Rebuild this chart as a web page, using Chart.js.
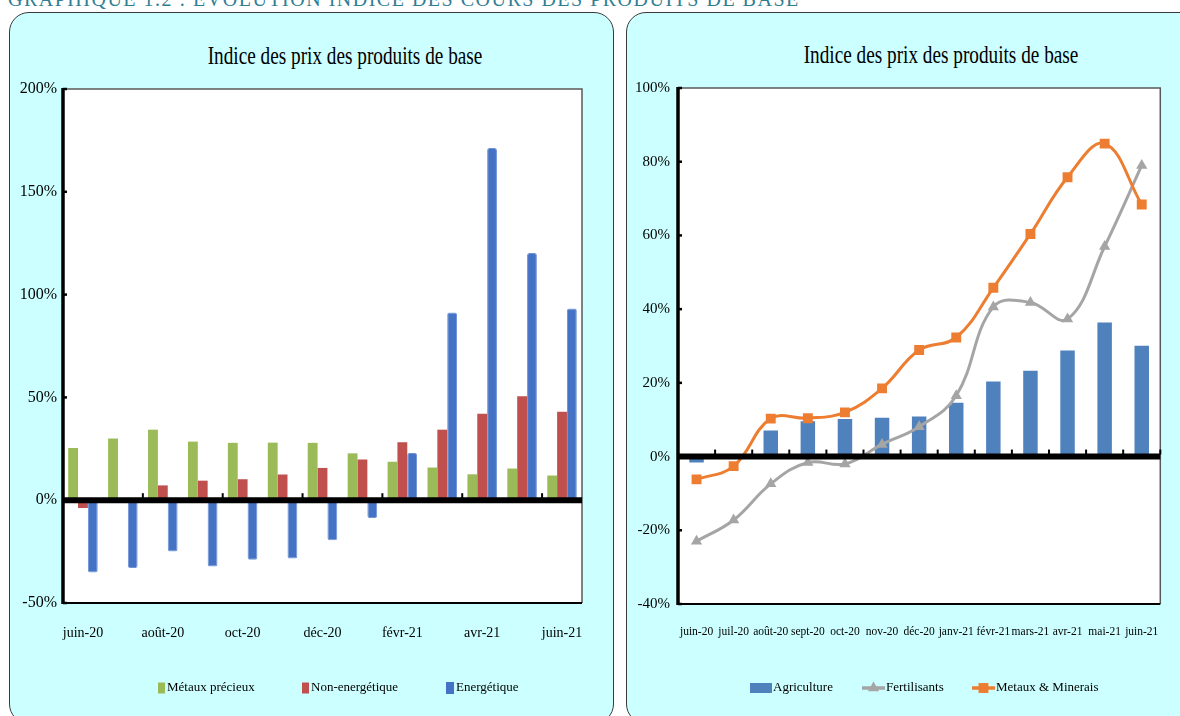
<!DOCTYPE html>
<html><head><meta charset="utf-8">
<script src="https://cdn.jsdelivr.net/npm/chart.js@4.4.1/dist/chart.umd.min.js"></script>
<style>
html,body{margin:0;padding:0;background:#fff;width:1180px;height:716px;overflow:hidden;position:relative;font-family:'Liberation Serif',serif;}
.hdr{position:absolute;left:8px;top:-11px;font-size:20px;line-height:20px;letter-spacing:1.5px;color:#2F7E93;white-space:nowrap;}
.panel{position:absolute;top:12px;height:712px;background:#CCFFFF;border:1.5px solid #3a3a3a;border-radius:20px;box-sizing:border-box;}
#p1{left:9px;width:605px;}
#p2{left:626px;width:620px;}
.ttl{position:absolute;font-size:26px;line-height:30px;color:#000;white-space:nowrap;transform:translateX(-50%) scaleX(0.74);}
canvas{position:absolute;}
</style></head>
<body>
<div class="hdr">GRAPHIQUE 1.2 : EVOLUTION INDICE DES COURS DES PRODUITS DE BASE</div>
<div class="panel" id="p1"></div>
<div class="panel" id="p2"></div>
<div class="ttl" style="left:345px;top:41px;">Indice des prix des produits de base</div>
<div class="ttl" style="left:941px;top:40px;">Indice des prix des produits de base</div>
<canvas id="c1" style="left:8px;top:12px;width:606px;height:704px;" width="606" height="704"></canvas>
<canvas id="c2" style="left:625px;top:12px;width:555px;height:704px;" width="555" height="704"></canvas>
<script>
// ---- data ----
const categories = ['juin-20','juil-20','août-20','sept-20','oct-20','nov-20','déc-20','janv-21','févr-21','mars-21','avr-21','mai-21','juin-21'];
// left chart (%)
const metauxPrecieux = [25.4, 30.0, 34.3, 28.5, 27.9, 28.0, 27.9, 22.8, 18.7, 15.9, 12.6, 15.4, 12.0];
const nonEnergetique = [-3.8, 0.0, 7.2, 9.5, 10.2, 12.5, 15.7, 19.8, 28.2, 34.3, 42.0, 50.5, 43.0];
const energetique = [-35.2, -33.0, -24.9, -32.3, -29.0, -28.4, -19.5, -8.7, 23.0, 91.3, 171.3, 120.2, 93.3];
const leftTicks = {min: -50, max: 200, step: 50};
// right chart (%)
const agriculture = [-1.6, 0.0, 7.1, 9.6, 10.2, 10.5, 10.9, 14.6, 20.4, 23.3, 28.8, 36.4, 30.1];
const fertilisants = [-23.0, -17.2, -7.4, -1.6, -2.0, 3.3, 8.1, 16.5, 40.6, 41.8, 37.3, 57.0, 79.0];
const metauxMinerais = [-6.2, -2.6, 10.3, 10.4, 12.0, 18.5, 28.9, 32.3, 45.8, 60.4, 75.8, 84.9, 68.4];
const rightTicks = {min: -40, max: 100, step: 20};

const FONT = "'Liberation Serif', serif";

// frame / axis decoration plugin
const frame = {
  id: 'frame',
  beforeDatasetsDraw(chart) {
    const {ctx, chartArea: c} = chart;
    ctx.save(); ctx.fillStyle = '#fff';
    ctx.fillRect(c.left, c.top, c.right - c.left, c.bottom - c.top);
    ctx.restore();
  },
  afterDatasetsDraw(chart, args, o) {
    const {ctx, chartArea: c, scales: {x, y}} = chart;
    ctx.save();
    ctx.strokeStyle = '#5a5a5a'; ctx.lineWidth = 1.5;
    ctx.beginPath(); ctx.moveTo(c.left, c.top); ctx.lineTo(c.right, c.top); ctx.lineTo(c.right, c.bottom); ctx.stroke();
    ctx.strokeStyle = '#000'; ctx.lineWidth = 2;
    ctx.beginPath(); ctx.moveTo(c.left, c.bottom); ctx.lineTo(c.right, c.bottom); ctx.stroke();
    const y0 = y.getPixelForValue(0);
    ctx.lineWidth = 6;
    ctx.beginPath(); ctx.moveTo(c.left, y0); ctx.lineTo(c.right, y0); ctx.stroke();
    // x tick marks on the zero line at category boundaries
    ctx.lineWidth = 2;
    const n = chart.data.labels.length;
    for (let i = o.every; i <= n; i += o.every) {
      const px = i < n ? (x.getPixelForValue(i - 1) + x.getPixelForValue(i)) / 2 : c.right;
      ctx.beginPath(); ctx.moveTo(px, y0 - 2); ctx.lineTo(px, y0 - 7); ctx.stroke();
    }
    // y axis line + inner tick marks
    ctx.lineWidth = 3.5;
    ctx.beginPath(); ctx.moveTo(c.left, c.top - 1); ctx.lineTo(c.left, c.bottom + 1); ctx.stroke();
    ctx.lineWidth = 2.5;
    y.ticks.forEach(t => {
      const py = y.getPixelForValue(t.value);
      ctx.beginPath(); ctx.moveTo(c.left, py); ctx.lineTo(c.left + 4, py); ctx.stroke();
    });
    ctx.restore();
  }
};

// free-positioned legend plugin
function drawMarker(ctx, style, r, cx, cy) {
  ctx.beginPath();
  if (style === 'rect') {
    const s = r * Math.SQRT1_2;
    ctx.rect(cx - s, cy - s, 2 * s, 2 * s);
  } else if (style === 'triangle') {
    ctx.moveTo(cx, cy - r);
    ctx.lineTo(cx + r * 0.866, cy + r * 0.5);
    ctx.lineTo(cx - r * 0.866, cy + r * 0.5);
    ctx.closePath();
  }
  ctx.fill();
}
const freeLegend = {
  id: 'freeLegend',
  afterDraw(chart, args, o) {
    const ctx = chart.ctx;
    ctx.save();
    ctx.font = o.font;
    ctx.textBaseline = 'middle';
    chart.data.datasets.forEach((ds, i) => {
      const it = o.items[i];
      const yc = o.y;
      if (it.type === 'box') {
        ctx.fillStyle = ds.backgroundColor;
        ctx.fillRect(it.x, yc - it.h / 2, it.w, it.h);
      } else {
        ctx.strokeStyle = ds.borderColor; ctx.lineWidth = 3.5;
        ctx.beginPath(); ctx.moveTo(it.x, yc); ctx.lineTo(it.x + it.w, yc); ctx.stroke();
        ctx.fillStyle = ds.pointBackgroundColor;
        drawMarker(ctx, ds.pointStyle, ds.pointRadius, it.x + it.w / 2, yc);
      }
      ctx.fillStyle = '#000';
      ctx.fillText(ds.label, it.x + it.w + it.gap, yc);
    });
    ctx.restore();
  }
};

const pct = v => v + '%';

// ---- left chart ----
new Chart(document.getElementById('c1'), {
  type: 'bar',
  data: {
    labels: categories,
    datasets: [
      {label: 'Métaux précieux', data: metauxPrecieux, backgroundColor: '#9BBB59'},
      {label: 'Non-energétique', data: nonEnergetique, backgroundColor: '#C0504D'},
      {label: 'Energétique', data: energetique, backgroundColor: '#4472C4', borderColor: '#6F93D6', borderWidth: 1, borderRadius: 2, borderSkipped: false}
    ]
  },
  options: {
    responsive: false, animation: false, devicePixelRatio: 1,
    layout: {padding: {top: 77, right: 32, bottom: 63, left: 0}},
    datasets: {bar: {categoryPercentage: 0.74, barPercentage: 1.0}},
    scales: {
      x: {
        offset: true,
        grid: {display: false, drawTicks: false}, border: {display: false},
        ticks: {autoSkip: false, maxRotation: 0, minRotation: 0, padding: 22, color: '#000',
          font: {family: FONT, size: 14},
          callback: (v, i) => i % 2 === 0 ? categories[i] : ''},
        afterFit: s => { s.height = 50; }
      },
      y: {
        min: leftTicks.min, max: leftTicks.max,
        grid: {display: false, drawTicks: false}, border: {display: false},
        ticks: {stepSize: leftTicks.step, padding: 6, color: '#000', font: {family: FONT, size: 16}, callback: pct},
        afterFit: s => { s.width = 55; }
      }
    },
    plugins: {
      legend: {display: false}, tooltip: {enabled: false}, title: {display: false},
      frame: {every: 2},
      freeLegend: {y: 676, font: "13px " + FONT, items: [
        {type: 'box', x: 150, w: 7, h: 11, gap: 2},
        {type: 'box', x: 294, w: 7, h: 11, gap: 2},
        {type: 'box', x: 438, w: 8, h: 12, gap: 2}
      ]}
    }
  },
  plugins: [frame, freeLegend]
});

// ---- right chart ----
new Chart(document.getElementById('c2'), {
  type: 'bar',
  data: {
    labels: categories,
    datasets: [
      {type: 'bar', label: 'Agriculture', data: agriculture, backgroundColor: '#4F81BD', order: 3,
        categoryPercentage: 1.0, barPercentage: 0.39},
      {type: 'line', label: 'Fertilisants', data: fertilisants, borderColor: '#A5A5A5', borderWidth: 3,
        tension: 0.4, pointStyle: 'triangle', pointRadius: 6.5, pointBackgroundColor: '#A5A5A5',
        pointBorderColor: '#A5A5A5', pointBorderWidth: 0, order: 2, fill: false},
      {type: 'line', label: 'Metaux & Minerais', data: metauxMinerais, borderColor: '#ED7D31', borderWidth: 3,
        tension: 0.4, pointStyle: 'rect', pointRadius: 7, pointBackgroundColor: '#ED7D31',
        pointBorderColor: '#ED7D31', pointBorderWidth: 0, order: 1, fill: false}
    ]
  },
  options: {
    responsive: false, animation: false, devicePixelRatio: 1,
    layout: {padding: {top: 76, right: 17, bottom: 62, left: 0}},
    scales: {
      x: {
        offset: true,
        grid: {display: false, drawTicks: false}, border: {display: false},
        ticks: {autoSkip: false, maxRotation: 0, minRotation: 0, padding: 21, color: '#000',
          font: {family: FONT, size: 11.5}},
        afterFit: s => { s.height = 50; }
      },
      y: {
        min: rightTicks.min, max: rightTicks.max,
        grid: {display: false, drawTicks: false}, border: {display: false},
        ticks: {stepSize: rightTicks.step, padding: 8, color: '#000', font: {family: FONT, size: 15}, callback: pct},
        afterFit: s => { s.width = 53; }
      }
    },
    plugins: {
      legend: {display: false}, tooltip: {enabled: false}, title: {display: false},
      frame: {every: 1},
      freeLegend: {y: 676, font: "13px " + FONT, items: [
        {type: 'box', x: 125, w: 22, h: 10, gap: 1},
        {type: 'line', x: 237, w: 23, gap: 1},
        {type: 'line', x: 347, w: 23, gap: 1}
      ]}
    }
  },
  plugins: [frame, freeLegend]
});
</script>
</body></html>
